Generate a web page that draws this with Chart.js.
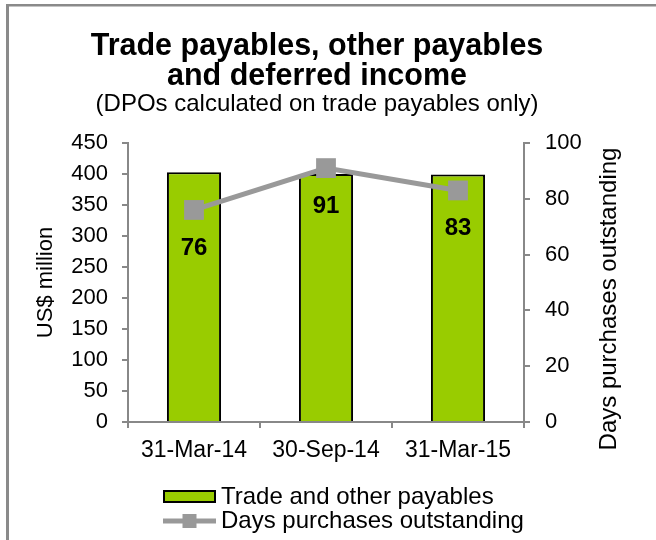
<!DOCTYPE html>
<html><head><meta charset="utf-8">
<script src="https://cdn.jsdelivr.net/npm/chart.js@4.4.0/dist/chart.umd.min.js"></script>
<style>html,body{margin:0;padding:0;background:#fff}#wrap{width:656px;height:540px}</style>
</head><body><div id="wrap"><canvas id="c" width="656" height="540"></canvas></div>
<script>
const categories = ['31-Mar-14', '30-Sep-14', '31-Mar-15'];
const payables = [403, 400, 399];
const dpo = [76, 91, 83];
const seriesNames = ['Trade and other payables', 'Days purchases outstanding'];
const titleLines = ['Trade payables, other payables', 'and deferred income'];
const subtitleText = '(DPOs calculated on trade payables only)';
const leftAxisTitle = 'US$ million';
const rightAxisTitle = 'Days purchases outstanding';

const FONT = '"Liberation Sans", Arial, Helvetica, sans-serif';
const GREEN = '#99cc00';
const GRAY = '#999999';
const AXIS = '#888888';

const frame = {
  id: 'frame',
  beforeDraw(chart) {
    const ctx = chart.ctx;
    ctx.save();
    ctx.fillStyle = '#ffffff';
    ctx.fillRect(0, 0, chart.width, chart.height);
    ctx.fillStyle = '#8a8a8a';
    ctx.fillRect(6, 4, 3, chart.height);
    ctx.fillRect(6, 4, chart.width, 2.5);
    ctx.restore();
  }
};

const rightTitle = {
  id: 'rightTitle',
  afterDraw(chart) {
    const ctx = chart.ctx;
    ctx.save();
    ctx.translate(609, 299);
    ctx.rotate(-Math.PI / 2);
    ctx.font = '24px ' + FONT;
    ctx.fillStyle = '#000';
    ctx.textAlign = 'center';
    ctx.textBaseline = 'middle';
    ctx.fillText(rightAxisTitle, 0, 0);
    ctx.restore();
  }
};

const pointLabels = {
  id: 'pointLabels',
  afterDatasetsDraw(chart) {
    const ctx = chart.ctx;
    const meta = chart.getDatasetMeta(1);
    ctx.save();
    ctx.font = 'bold 24px ' + FONT;
    ctx.fillStyle = '#000';
    ctx.textAlign = 'center';
    ctx.textBaseline = 'middle';
    meta.data.forEach((pt, i) => {
      ctx.fillText(String(chart.data.datasets[1].data[i]), pt.x, pt.y + 38);
    });
    ctx.restore();
  }
};

const customLegend = {
  id: 'customLegend',
  afterDraw(chart) {
    const ctx = chart.ctx;
    const x0 = 163, boxW = 53;
    ctx.save();
    ctx.fillStyle = GREEN;
    ctx.fillRect(x0, 490, boxW, 13);
    ctx.strokeStyle = '#000';
    ctx.lineWidth = 2;
    ctx.strokeRect(x0 + 1, 491, boxW - 2, 11);
    ctx.strokeStyle = GRAY;
    ctx.lineWidth = 5;
    ctx.beginPath();
    ctx.moveTo(x0, 521);
    ctx.lineTo(x0 + boxW, 521);
    ctx.stroke();
    ctx.fillStyle = GRAY;
    ctx.fillRect(x0 + boxW / 2 - 7, 514, 14, 14);
    ctx.fillStyle = '#000';
    ctx.font = '24px ' + FONT;
    ctx.textAlign = 'left';
    ctx.textBaseline = 'middle';
    ctx.fillText(seriesNames[0], 221, 497);
    ctx.fillText(seriesNames[1], 221, 521);
    ctx.restore();
  }
};

new Chart(document.getElementById('c'), {
  data: {
    labels: categories,
    datasets: [
      {
        type: 'bar',
        label: seriesNames[0],
        data: payables,
        yAxisID: 'y',
        backgroundColor: GREEN,
        borderColor: '#000',
        borderWidth: 2,
        barPercentage: 0.41,
        categoryPercentage: 1,
        order: 1
      },
      {
        type: 'line',
        label: seriesNames[1],
        data: dpo,
        yAxisID: 'y1',
        borderColor: GRAY,
        borderWidth: 5,
        pointStyle: 'rect',
        pointRadius: 14,
        pointBackgroundColor: GRAY,
        pointBorderColor: GRAY,
        pointBorderWidth: 0,
        tension: 0,
        order: 0
      }
    ]
  },
  options: {
    responsive: false,
    animation: false,
    layout: { padding: { left: 8, right: 30, top: 0, bottom: 78 } },
    plugins: {
      legend: { display: false },
      tooltip: { enabled: false },
      title: {
        display: true,
        text: titleLines,
        color: '#000',
        font: { family: FONT, size: 30.5, weight: 'bold', lineHeight: 1.0 },
        padding: { top: 31, bottom: 0 }
      },
      subtitle: {
        display: true,
        text: subtitleText,
        color: '#000',
        font: { family: FONT, size: 24, lineHeight: 1.0 },
        padding: { top: 0, bottom: 27 }
      }
    },
    scales: {
      x: {
        grid: { display: true, drawOnChartArea: false, drawTicks: true, tickLength: 6, color: AXIS, lineWidth: 2, offset: true },
        border: { color: AXIS, width: 2 },
        ticks: { color: '#000', font: { family: FONT, size: 23 }, padding: 9, maxRotation: 0 },
        afterFit(s) { s.height = 40; }
      },
      y: {
        position: 'left',
        min: 0, max: 450,
        ticks: { stepSize: 50, color: '#000', font: { family: FONT, size: 22 }, padding: 14 },
        grid: { drawOnChartArea: false, tickLength: 6, color: AXIS, lineWidth: 2 },
        border: { color: AXIS, width: 2 },
        title: { display: true, text: leftAxisTitle, color: '#000', font: { family: FONT, size: 22 }, padding: { top: 25 } },
        afterFit(s) { s.width = 120; }
      },
      y1: {
        position: 'right',
        min: 0, max: 100,
        ticks: { stepSize: 20, color: '#000', font: { family: FONT, size: 22 }, padding: 15 },
        grid: { drawOnChartArea: false, tickLength: 6, color: AXIS, lineWidth: 2 },
        border: { color: AXIS, width: 2 },
        afterFit(s) { s.width = 102; }
      }
    }
  },
  plugins: [frame, pointLabels, rightTitle, customLegend]
});
</script>
</body></html>
